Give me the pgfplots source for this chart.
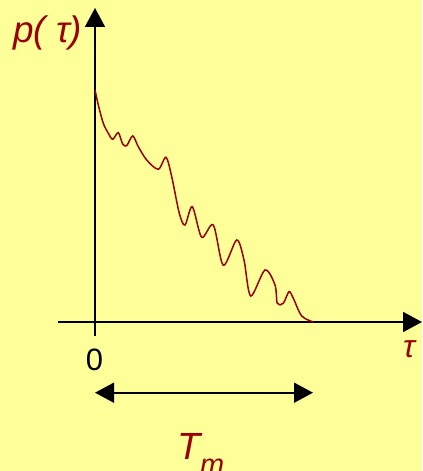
\documentclass[border=0pt]{standalone}
\usepackage{pgfplots}
\pgfplotsset{compat=1.18}
\usepackage{fontspec}
\setmainfont{Liberation Sans}
\usetikzlibrary{arrows.meta}
\definecolor{bgyellow}{RGB}{255,255,153}
\definecolor{darkred}{RGB}{153,0,0}
\begin{document}
\begin{tikzpicture}[x=1bp,y=1bp]
% page background
\fill[bgyellow] (-58,-135) rectangle (364,336);
\begin{axis}[
  at={(0,0)}, anchor=south west,
  scale only axis, width=364bp, height=328bp,
  xmin=-37, xmax=327, ymin=-14, ymax=314,
  axis lines=middle,
  axis line style={line width=1.6bp, black, -{Triangle[length=19bp,width=20bp]}},
  xtick=\empty, ytick=\empty,
  clip=false,
]
% power delay profile
\addplot[darkred, line width=1.5bp, smooth, tension=0.5] coordinates {
  (0,232) (3.3,217) (8.3,198.7) (13.3,188.7) (17.7,182.7) (23.3,189.3)
  (27.7,178) (31.7,176.3) (37.7,186) (43.3,175.3) (51.7,162) (63.3,152.7)
  (71,164.7) (76.7,145.3) (84.3,108.7) (90,97) (97.3,115.3) (106.7,84.7)
  (118.3,97) (128.3,56.7) (141.7,82) (149,62) (155.7,26) (170,52)
  (180,37) (182.3,18.7) (188.3,18.7) (194,30.3) (198.3,23.7) (206.7,6)
  (218.3,0)
};
% delay spread
\draw[line width=1.6bp, {Triangle[length=19bp,width=20bp]}-{Triangle[length=19bp,width=20bp]}]
  (axis cs:0,-70.7) -- (axis cs:218,-70.7);
\node[anchor=base west, inner sep=0pt, text=darkred, font=\fontsize{37}{40}\selectfont\itshape]
  at (axis cs:-82,279) {p( τ)};
\node[anchor=base, inner sep=0pt, font=\fontsize{31}{34}\selectfont]
  at (axis cs:-0.5,-48) {0};
\node[anchor=base west, inner sep=0pt, text=darkred, font=\fontsize{32}{34}\selectfont\itshape]
  at (axis cs:308,-35) {τ};
\node[anchor=base west, inner sep=0pt, text=darkred, font=\fontsize{38}{40}\selectfont\itshape]
  at (axis cs:82,-137) {T};
\node[anchor=base west, inner sep=0pt, text=darkred, font=\fontsize{29}{32}\selectfont\itshape]
  at (axis cs:105,-152) {m};
\end{axis}
\pgfresetboundingbox
\useasboundingbox (-58,-135) rectangle (364,336);
\end{tikzpicture}
\end{document}
